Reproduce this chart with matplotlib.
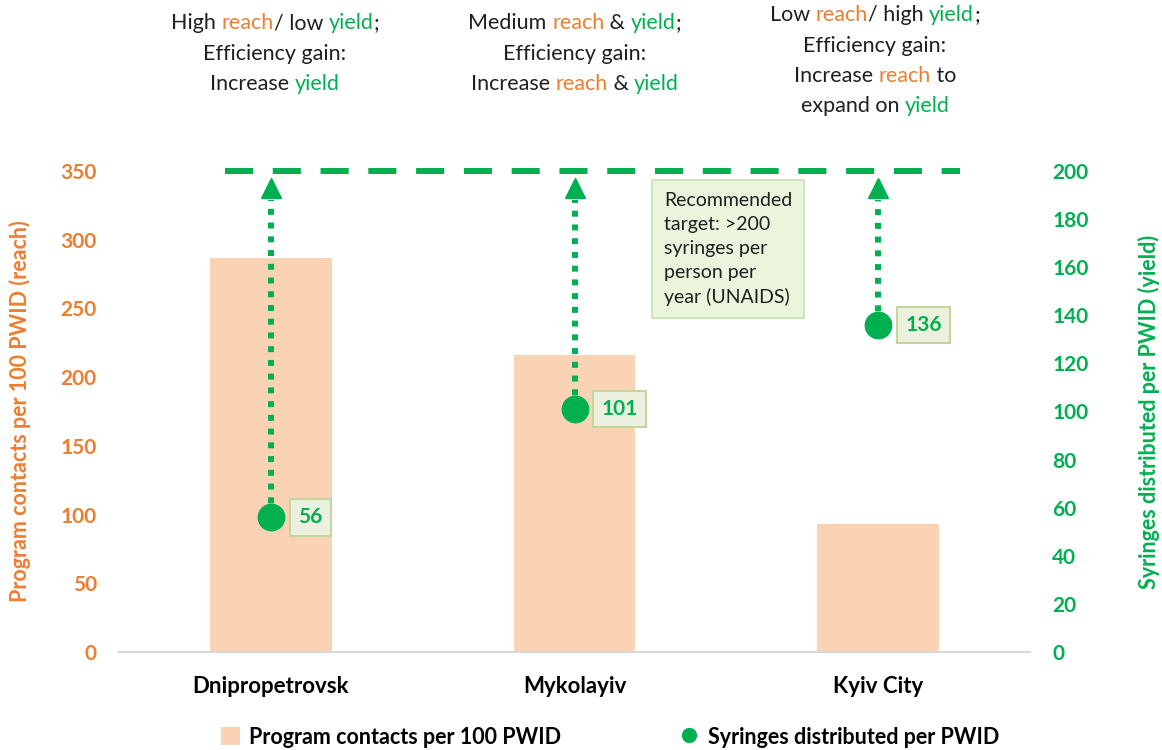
import matplotlib
matplotlib.use("Agg")
import matplotlib.pyplot as plt
from matplotlib.offsetbox import TextArea, HPacker, AnnotationBbox
from matplotlib.patches import Patch
from matplotlib.lines import Line2D

plt.rcParams['font.family'] = ['Lato', 'DejaVu Sans']

# data
regions = ["Dnipropetrovsk", "Mykolayiv", "Kyiv City"]
contacts = [287, 216, 93]       # program contacts per 100 PWID (reach)
syringes = [56, 101, 136]       # syringes distributed per PWID (yield)
target = 200
target_note = "Recommended\ntarget: >200\nsyringes per\nperson per\nyear (UNAIDS)"

ORANGE = '#ED7D31'
GREEN = '#00B050'
DARK = '#1F1F1F'
BAR = '#F9D3B4'

# header text per region, split into coloured pieces
headers = [
    [[("High ", DARK), ("reach", ORANGE), ("/ low ", DARK), ("yield", GREEN), (";", DARK)],
     [("Efficiency gain:", DARK)],
     [("Increase ", DARK), ("yield", GREEN)]],
    [[("Medium ", DARK), ("reach", ORANGE), (" & ", DARK), ("yield", GREEN), (";", DARK)],
     [("Efficiency gain:", DARK)],
     [("Increase ", DARK), ("reach", ORANGE), (" & ", DARK), ("yield", GREEN)]],
    [[("Low ", DARK), ("reach", ORANGE), ("/ high ", DARK), ("yield", GREEN), (";", DARK)],
     [("Efficiency gain:", DARK)],
     [("Increase ", DARK), ("reach", ORANGE), (" to", DARK)],
     [("expand on ", DARK), ("yield", GREEN)]],
]

W, H = 1162, 750
fig = plt.figure(figsize=(W / 100, H / 100), dpi=100)
ax = fig.add_axes([119 / W, 1 - 652 / H, 911 / W, 481 / H])
ax2 = ax.twinx()

x = list(range(len(regions)))

# bars (left axis)
ax.bar(x, contacts, width=0.4, color=BAR, zorder=1)
ax.set_xlim(-0.5, len(regions) - 0.5)
ax.set_ylim(0, 350)
ax.set_yticks(range(0, 351, 50))
ax.set_xticks(x)
ax.set_xticklabels(regions, fontsize=16, fontweight='bold', color='black')
ax.tick_params(axis='x', length=0, pad=17)
ax.tick_params(axis='y', length=0, pad=16, labelsize=15, labelcolor=ORANGE)
for t in ax.get_yticklabels():
    t.set_fontweight('bold')
ax.set_ylabel("Program contacts per 100 PWID (reach)", color=ORANGE,
              fontsize=15.5, fontweight='bold')
ax.yaxis.set_label_coords(-0.097, 0.5)

# dots (right axis)
ax2.set_ylim(0, 200)
ax2.set_yticks(range(0, 201, 20))
ax2.tick_params(axis='y', length=0, pad=16, labelsize=15, labelcolor=GREEN)
for t in ax2.get_yticklabels():
    t.set_fontweight('bold')
ax2.set_ylabel("Syringes distributed per PWID (yield)", color=GREEN,
               fontsize=15.5, fontweight='bold', rotation=90)
ax2.yaxis.set_label_coords(1.119, 0.5)

for a in (ax, ax2):
    for s in ('top', 'left', 'right'):
        a.spines[s].set_visible(False)
    a.spines['bottom'].set_color('#D9D9D9')
    a.spines['bottom'].set_linewidth(1.5)

# target line
ax2.axhline(target, xmin=0.116, xmax=0.923, color=GREEN, lw=4.3,
            ls=(0, (4.7, 3.3)), clip_on=False, zorder=3)

# dotted arrows towards target
for xi, s in zip(x, syringes):
    ax2.plot([xi, xi], [s, target - 12], color=GREEN, lw=4.3,
             ls=(0, (1, 1.3)), zorder=3)
    ax2.plot(xi, target - 7, marker='^', ms=14, color=GREEN, zorder=4,
             clip_on=False)

ax2.plot(x, syringes, 'o', ms=19, color=GREEN, zorder=5)

for xi, s in zip(x, syringes):
    ax2.annotate(str(s), (xi, s), xytext=(19.5, 0), textcoords='offset points',
                 ha='left', va='center', fontsize=15, fontweight='bold',
                 color=GREEN, zorder=6,
                 bbox=dict(boxstyle='square,pad=0.4', fc='#EBF1DE',
                           ec='#C3D69B', lw=1.5))

ax2.text(0.598, 0.957, target_note, transform=ax2.transAxes, ha='left',
         va='top', fontsize=14, color=DARK, linespacing=1.5, zorder=6,
         bbox=dict(boxstyle='square,pad=0.6', fc='#EBF5DC', ec='#C5E0B4',
                   lw=1.2))

# headers above the plot
centers_px = [275, 575, 875]
for cx, block in zip(centers_px, headers):
    start = 23 if len(block) == 3 else 15
    for j, line in enumerate(block):
        parts = [TextArea(txt, textprops=dict(color=c, fontsize=15.5))
                 for txt, c in line]
        hp = HPacker(children=parts, align='baseline', pad=0, sep=0)
        y_px = start + 30.5 * j
        ab = AnnotationBbox(hp, (cx / W, 1 - y_px / H),
                            xycoords='figure fraction', frameon=False,
                            box_alignment=(0.5, 0.5), pad=0)
        fig.add_artist(ab)

# legend
handles = [Patch(fc=BAR, ec='none'),
           Line2D([], [], ls='none', marker='o', ms=10, color=GREEN)]
labels = ["Program contacts per 100 PWID", "Syringes distributed per PWID"]
fig.legend(handles, labels, loc='center', bbox_to_anchor=(0.525, 1 - 737 / H),
           ncol=2, frameon=False, columnspacing=5.5, handlelength=0.9,
           handleheight=0.9, handletextpad=0.4,
           prop=dict(size=15.5, weight='bold'))

fig.savefig("out.png", dpi=100)
